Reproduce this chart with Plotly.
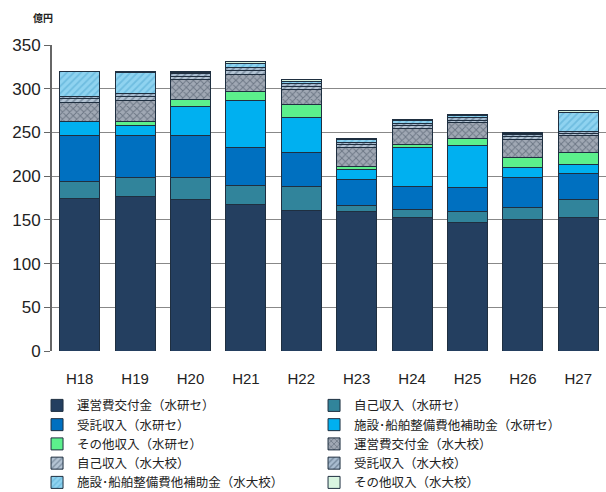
import plotly.graph_objects as go

years = ["H18", "H19", "H20", "H21", "H22", "H23", "H24", "H25", "H26", "H27"]

unei_fra   = [175, 176.5, 173.5, 167, 161, 159, 152.5, 147, 150.7, 152.5]
jiko_fra   = [19, 22, 25, 22, 27, 7, 9, 12, 13.3, 20.3]
itaku_fra  = [52, 48.5, 48.5, 44, 39, 30, 27, 28, 34, 30.5]
shisetsu_fra = [16, 11, 33, 53, 40, 12, 44, 48, 12, 9.5]
sonota_fra = [0.5, 4, 8, 10.5, 15, 3, 4, 8.5, 11, 14.2]
unei_ff    = [22, 25, 22, 20, 17, 22, 18, 17.5, 21, 19]
jiko_ff    = [4, 4, 4, 4, 4, 3, 3, 3, 3, 3]
itaku_ff   = [3, 3, 3, 4, 3, 3, 3, 3, 2.5, 2]
shisetsu_ff = [28, 24, 2, 4, 2, 2.5, 3, 2, 1.5, 22]
sonota_ff  = [0.5, 2, 1, 3, 3, 2, 1.5, 1, 0.7, 2.5]

names = ["運営費交付金（水研セ）", "自己収入（水研セ）", "受託収入（水研セ）",
         "施設･船舶整備費他補助金（水研セ）", "その他収入（水研セ）",
         "運営費交付金（水大校）", "自己収入（水大校）", "受託収入（水大校）",
         "施設･船舶整備費他補助金（水大校）", "その他収入（水大校）"]
series = [unei_fra, jiko_fra, itaku_fra, shisetsu_fra, sonota_fra,
          unei_ff, jiko_ff, itaku_ff, shisetsu_ff, sonota_ff]
colors = ["#243F60", "#31849B", "#0070C0", "#00B0F0", "#5CF08C",
          "#A0A8B4", "#B4C4D4", "#A8BCD0", "#8FD3F0", "#D8F5E0"]
patterns = ["", "", "", "", "", "x", "/", "/", "/", ""]
fgcols = [None, None, None, None, None, "#3A4656", "#4F6275", "#43576C", "#4FA8D0", None]

fig = go.Figure()
for nm, vals, c, p, fg in zip(names, series, colors, patterns, fgcols):
    marker = dict(color=c, line=dict(color="#1F2F40", width=1))
    if p:
        marker["pattern"] = dict(shape=p, fgcolor=fg, bgcolor=c, size=5, solidity=0.35, fillmode="overlay")
    fig.add_trace(go.Bar(x=years, y=vals, name=nm, marker=marker))

fig.update_layout(
    barmode="stack",
    bargap=0.28,
    width=606, height=492,
    margin=dict(l=52, r=0, t=45, b=141, autoexpand=False),
    plot_bgcolor="white", paper_bgcolor="white",
    font=dict(family="Noto Sans CJK JP, Noto Sans, sans-serif", color="#222222"),
    showlegend=True,
    legend=dict(orientation="h", x=-0.027, xanchor="left", y=-0.13, yanchor="top",
                entrywidth=232, entrywidthmode="pixels",
                font=dict(size=12.5, family="Noto Sans CJK JP"),
                itemwidth=30, tracegroupgap=0, traceorder="normal"),
    annotations=[dict(text="<b>億円</b>", xref="paper", yref="paper", x=-0.016, y=1.09,
                      xanchor="center", yanchor="middle", showarrow=False,
                      font=dict(size=10, family="Noto Sans CJK JP"))],
)
fig.update_yaxes(range=[0, 350], dtick=50, showgrid=True, gridcolor="#888888", gridwidth=1,
                 showline=True, linecolor="#666666", linewidth=2, ticks="outside",
                 tickcolor="#666666", ticklen=6, tickfont=dict(size=17, family="Liberation Sans"),
                 zeroline=False)
fig.update_xaxes(showline=False, ticks="", ticklabelstandoff=17,
                 tickfont=dict(size=15, family="Liberation Sans"))

fig.write_html("out.html", post_script="document.body.style.margin='0';",
               config={"displayModeBar": False})
